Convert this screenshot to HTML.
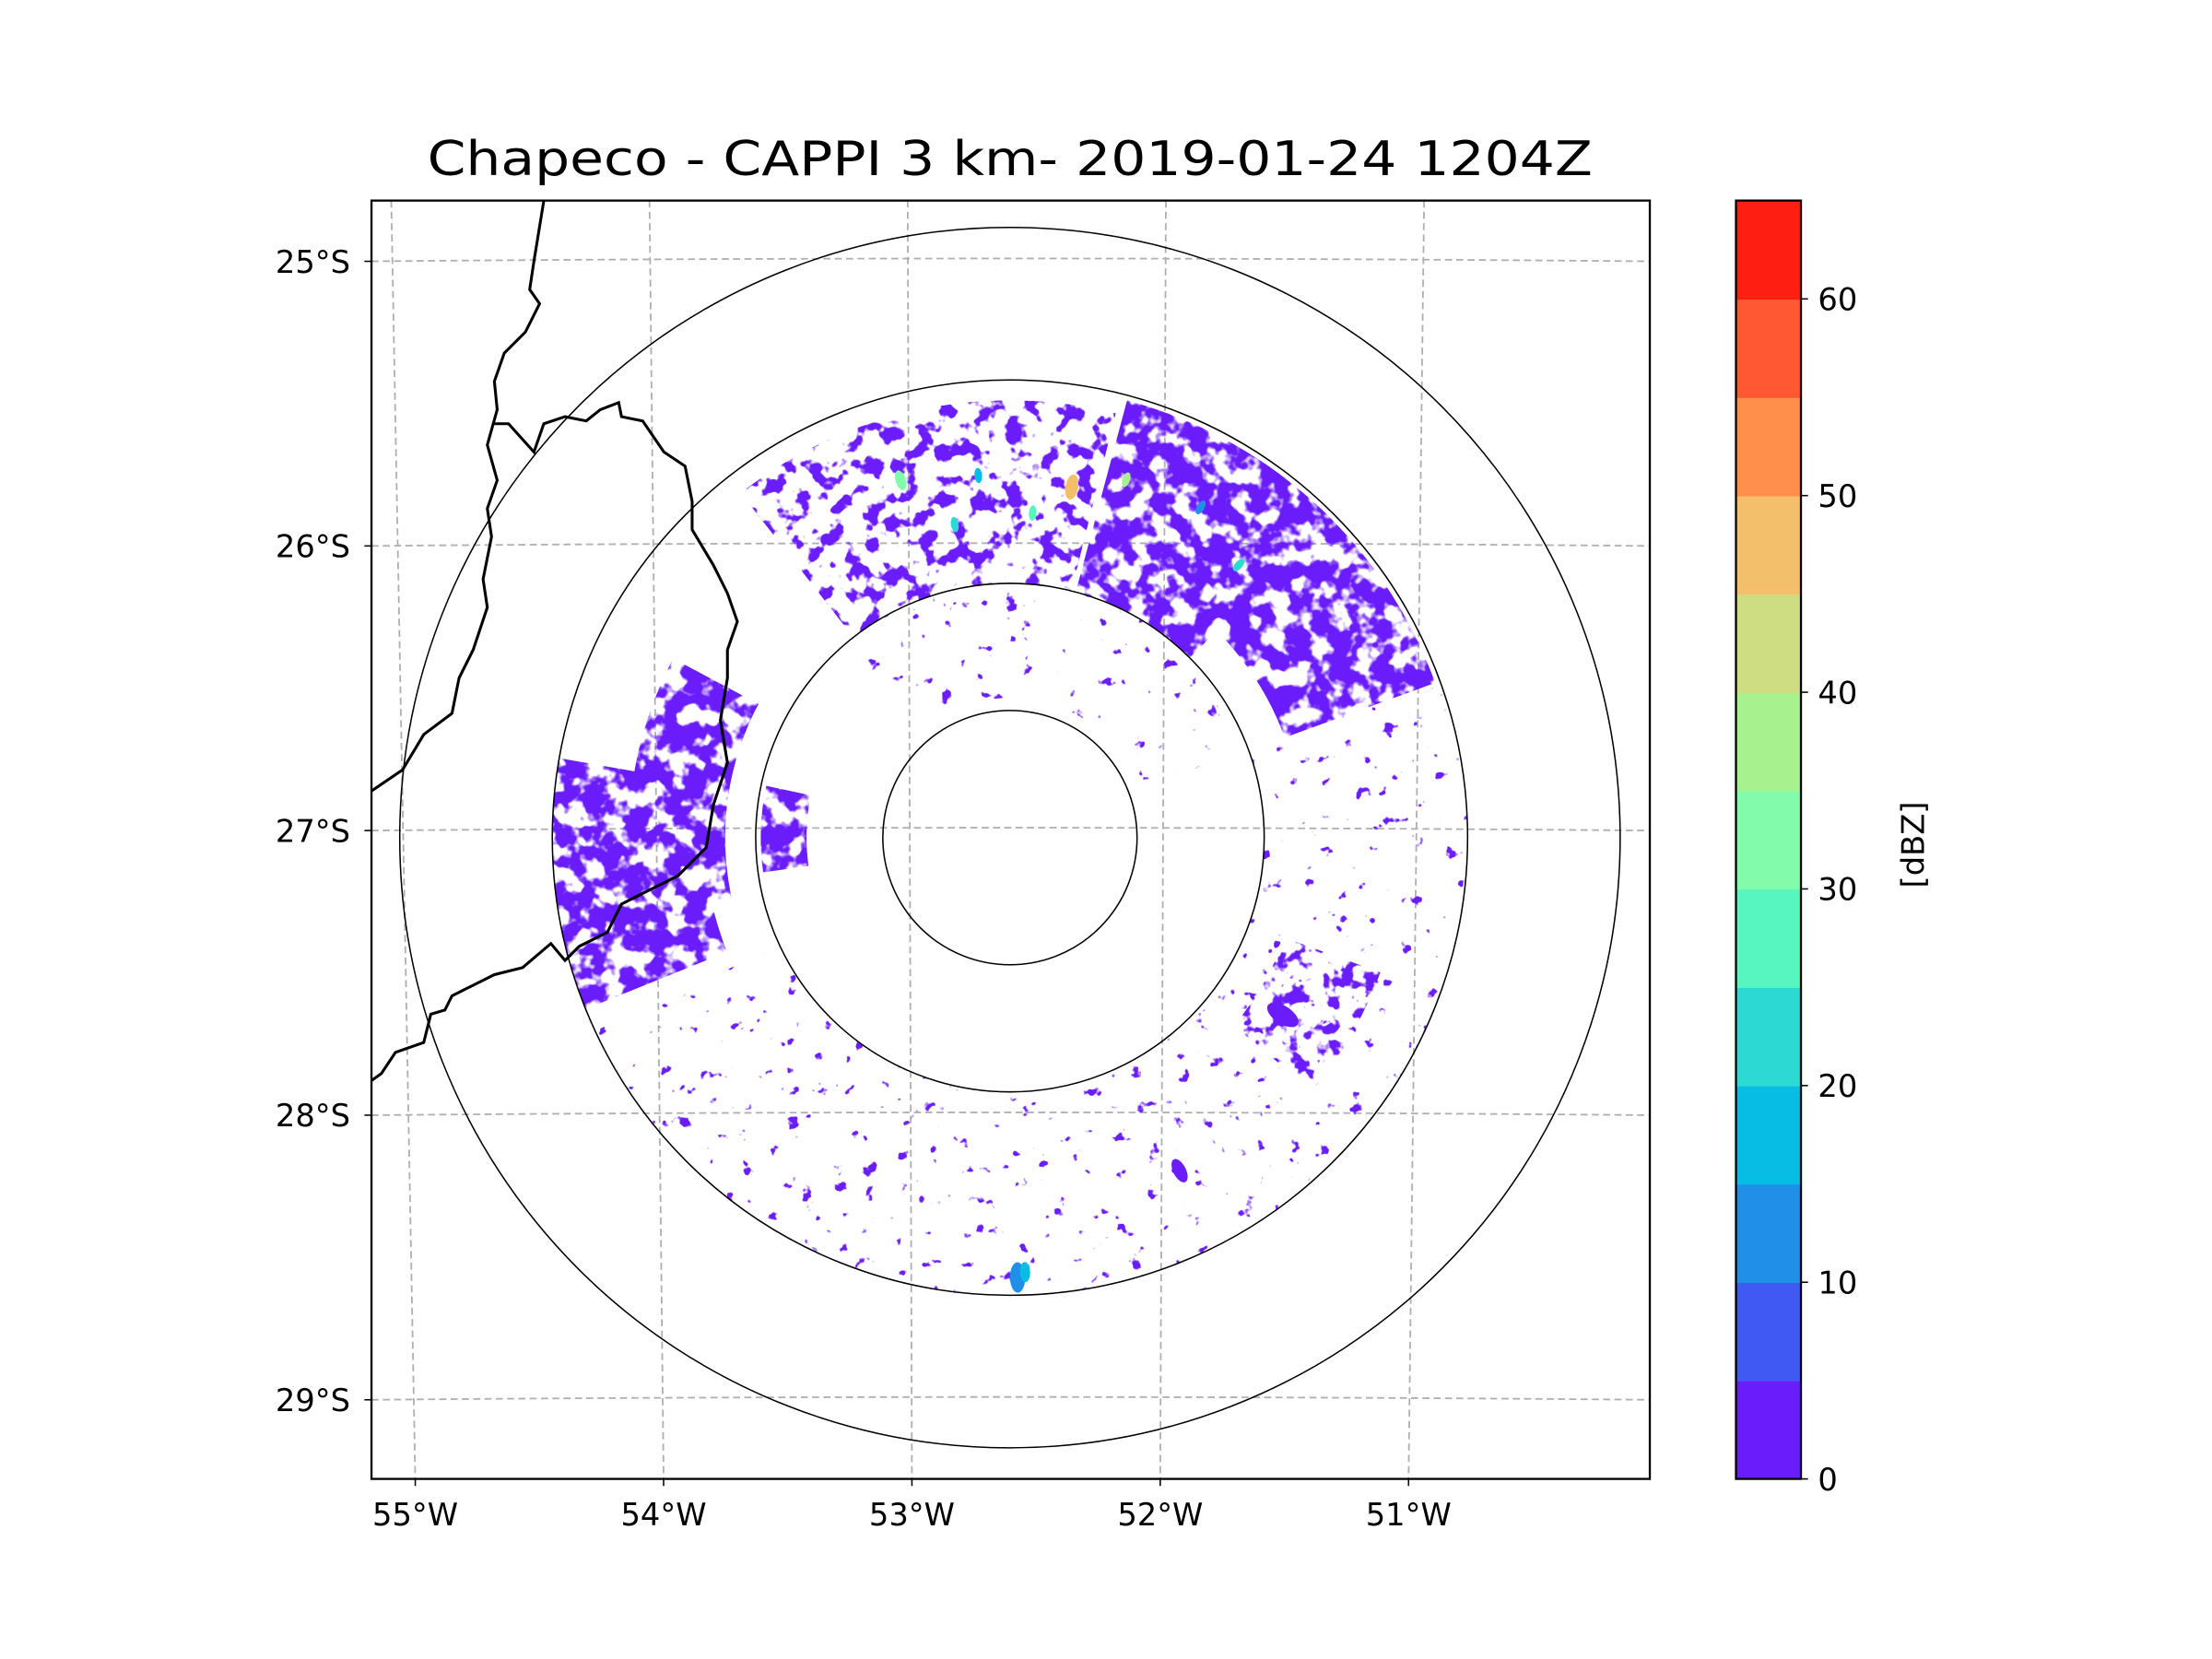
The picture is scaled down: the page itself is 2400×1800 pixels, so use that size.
<!DOCTYPE html>
<html><head><meta charset="utf-8"><style>
html,body{margin:0;padding:0;background:#fff;}
svg{display:block;font-family:"DejaVu Sans","Liberation Sans",sans-serif;}
</style></head><body>
<svg id="chart" width="2400" height="1800" viewBox="0 0 1566 1174.5" preserveAspectRatio="none" xmlns="http://www.w3.org/2000/svg">
<defs>
<filter id="dense" x="0" y="0" width="1566" height="1175" filterUnits="userSpaceOnUse">
<feTurbulence type="fractalNoise" baseFrequency="0.07" numOctaves="3" seed="7" result="n"/>
<feColorMatrix in="n" type="matrix" values="0 0 0 0 0  0 0 0 0 0  0 0 0 0 0  9 0 0 0 -3.7" result="m"/>
<feComposite in="SourceGraphic" in2="m" operator="in"/>
</filter>
<filter id="medium" x="0" y="0" width="1566" height="1175" filterUnits="userSpaceOnUse">
<feTurbulence type="fractalNoise" baseFrequency="0.08" numOctaves="3" seed="5" result="n"/>
<feColorMatrix in="n" type="matrix" values="0 0 0 0 0  0 0 0 0 0  0 0 0 0 0  12 0 0 0 -6.4" result="m"/>
<feComposite in="SourceGraphic" in2="m" operator="in"/>
</filter>
<filter id="sparse" x="0" y="0" width="1566" height="1175" filterUnits="userSpaceOnUse">
<feTurbulence type="fractalNoise" baseFrequency="0.09" numOctaves="3" seed="11" result="n"/>
<feColorMatrix in="n" type="matrix" values="0 0 0 0 0  0 0 0 0 0  0 0 0 0 0  16 0 0 0 -11.4" result="m"/>
<feComposite in="SourceGraphic" in2="m" operator="in"/>
</filter>
<clipPath id="axclip"><rect x="263" y="142" width="905" height="905"/></clipPath>
</defs>
<rect width="1566" height="1174.5" fill="#fff"/>
<text x="715" y="124" text-anchor="middle" font-size="34" textLength="825" lengthAdjust="spacingAndGlyphs">Chapeco - CAPPI 3 km- 2019-01-24 1204Z</text>
<g id="plot" clip-path="url(#axclip)">
<g id="grid"></g>
<g id="echoes"></g>
<g id="cells"></g>
<g id="rings"></g>
<path fill="none" stroke="#000" stroke-width="2" d="M385,142 L378,185 L375,205 L382,215 L372,235 L357,250 L350,270 L352,290 L345,315 L352,340 L345,360 L348,380 L342,410 L345,430 L335,460 L325,480 L320,505 L300,520 L285,545 L263,560"/>
<path fill="none" stroke="#000" stroke-width="2" d="M350,300 L360,300 L378,320 L385,300 L400,295 L415,298 L425,290 L438,285 L440,295 L455,298 L470,320 L485,330 L490,355 L490,375 L505,400 L515,420 L522,440 L515,460 L515,480 L510,510 L515,540 L505,570 L500,600 L480,620 L460,630 L440,640 L430,660 L410,670 L400,680 L390,668 L370,685 L350,690 L330,700 L320,705 L315,715 L305,718 L300,738 L280,745 L270,760 L263,765"/>
</g>
<rect x="263" y="142" width="905" height="905" fill="none" stroke="#000" stroke-width="1.5"/>
<g id="ticks"></g>
<g id="cbar"></g>
<text x="1362" y="598" text-anchor="middle" font-size="22" transform="rotate(-90 1362 598)">[dBZ]</text>
</svg>
<script>
// ---- data ----
const ringKm = [50, 100, 180, 240];
const latTicks = ['25°S','26°S','27°S','28°S','29°S'];
const latVals = [-25, -26, -27, -28, -29];
const lonTicks = ['55°W','54°W','53°W','52°W','51°W'];
const lonVals = [-55, -54, -53, -52, -51];
const cbarLevels = [0,5,10,15,20,25,30,35,40,45,50,55,60,65];
const cbarTickVals = [0,10,20,30,40,50,60];
const cbarColors = ['#6a1cfb','#4159f3','#1f8fe8','#08bde4','#2cdad3','#57f5bf','#82fcaa','#a8f18f','#cfdd82','#f3bf6a','#ff8f4a','#ff5833','#ff1f12'];
// echo sectors: azimuth start/end (deg from north), range in/out (km), dBZ, density (1 dense / 2 medium / 0 sparse)
const secAz0 = [15, 40, -38, 248, 258, 262, 70, 95, 150, 200, -40, 110, 140];
const secAz1 = [45, 70, 14, 280, 298, 282, 95, 150, 200, 245, 70, 130, 160];
const secR0  = [100, 115, 100, 120, 112, 80, 100, 100, 100, 100, 55, 115, 140];
const secR1  = [178, 178, 172, 180, 150, 98, 180, 180, 180, 180, 100, 155, 165];
const secDbz = [3, 3, 3, 3, 3, 3, 3, 3, 3, 3, 3, 3, 3];
const secDense = [1, 1, 2, 1, 1, 1, 0, 0, 0, 0, 0, 2, 0];
// discrete echoes: azimuth, range km, radius km, dBZ
const cellAz  = [123, 153, 179, 271, 10, 343, 4, 355, 30, 40, 18, 350, 178];
const cellR   = [128, 147, 173, 89, 140, 147, 128, 143, 150, 140, 148, 125, 171];
const cellSz  = [7, 5, 6, 4, 5, 4, 3, 3, 3, 3, 3, 3, 4];
const cellDbz = [4, 3, 12, 2, 48, 32, 25, 18, 12, 22, 38, 20, 15];

// ---- geometry ----
const cx = 715, cy = 593, pxPerKm = 1.8;
const NS = 'http://www.w3.org/2000/svg';
function polar(az, km){ const a = az*Math.PI/180; return [cx + Math.sin(a)*km*pxPerKm, cy - Math.cos(a)*km*pxPerKm]; }
function latY(lat){ return 185 + (-25 - lat) * 201.5; }
function lonXTop(lon){ return 277 + (lon + 55) * 182.8; }
function lonXBot(lon){ return 294 + (lon + 55) * 175.8; }
function colorFor(d){ for(let i=0;i<cbarColors.length;i++){ if(d < cbarLevels[i+1]) return cbarColors[i]; } return cbarColors[cbarColors.length-1]; }
function mk(tag, attrs, parent){ const e=document.createElementNS(NS,tag); for(const k in attrs) e.setAttribute(k,attrs[k]); parent.appendChild(e); return e; }

// graticule
const grid = document.getElementById('grid');
latVals.forEach((lat,i)=>{
  const y = latY(lat);
  const p = mk('path',{d:`M263,${y} Q715,${y-4} 1168,${y}`,fill:'none',stroke:'#b0b0b0','stroke-width':1.2,'stroke-dasharray':'5,3'},grid);
  
  
});
lonVals.forEach((lon,i)=>{
  const p = mk('line',{x1:lonXTop(lon),y1:142,x2:lonXBot(lon),y2:1047,stroke:'#b0b0b0','stroke-width':1.2,'stroke-dasharray':'5,3'},grid);
  
  
});

// echo sectors
const ech = document.getElementById('echoes');
const gSparse = mk('g',{filter:'url(#sparse)'},ech);
const gDense = mk('g',{filter:'url(#dense)'},ech);
const gMed = mk('g',{filter:'url(#medium)'},ech);
const groups = [gSparse, gDense, gMed];
secAz0.forEach((a0,i)=>{
  const a1 = secAz1[i], r0 = secR0[i], r1 = secR1[i];
  let d = '';
  const n = 24;
  for(let k=0;k<=n;k++){ const [x,y]=polar(a0+(a1-a0)*k/n, r1); d += (k?'L':'M')+x.toFixed(1)+','+y.toFixed(1); }
  for(let k=n;k>=0;k--){ const [x,y]=polar(a0+(a1-a0)*k/n, r0); d += 'L'+x.toFixed(1)+','+y.toFixed(1); }
  const p = mk('path',{d:d+'Z',fill:colorFor(secDbz[i])}, groups[secDense[i]]);
  
  
});
// discrete cells
const cg = document.getElementById('cells');
cellAz.forEach((az,i)=>{
  const [x,y] = polar(az, cellR[i]);
  const e = mk('ellipse',{cx:x.toFixed(1),cy:y.toFixed(1),rx:(cellSz[i]*pxPerKm).toFixed(1),ry:(cellSz[i]*pxPerKm*0.5).toFixed(1),fill:colorFor(cellDbz[i]),transform:`rotate(${(az+90)%180} ${x.toFixed(1)} ${y.toFixed(1)})`},cg);
  
  
});

// range rings
const rg = document.getElementById('rings');
ringKm.forEach(km=>{
  const c = mk('circle',{cx:cx,cy:cy,r:km*pxPerKm,fill:'none',stroke:'#000','stroke-width':1},rg);
  
  
});

// ticks
const tk = document.getElementById('ticks');
latTicks.forEach((lab,i)=>{
  const y = latY(latVals[i]);
  const l = mk('line',{x1:258,y1:y,x2:263,y2:y,stroke:'#000','stroke-width':1},tk);
  
  
  const t = mk('text',{x:248,y:y+8,'text-anchor':'end','font-size':22},tk);
  t.textContent = lab;
  
  
});
lonTicks.forEach((lab,i)=>{
  const x = lonXBot(lonVals[i]);
  const l = mk('line',{x1:x,y1:1047,x2:x,y2:1052,stroke:'#000','stroke-width':1},tk);
  
  
  const t = mk('text',{x:x,y:1080,'text-anchor':'middle','font-size':22},tk);
  t.textContent = lab;
  
  
});

// colorbar
const cb = document.getElementById('cbar');
const cbTop = 142, cbBot = 1047, cbX = 1229, cbW = 46;
const vmin = cbarLevels[0], vmax = cbarLevels[cbarLevels.length-1];
function cbY(v){ return cbBot - (v - vmin)/(vmax - vmin)*(cbBot - cbTop); }
cbarColors.forEach((c,i)=>{
  const y0 = cbY(cbarLevels[i+1]), y1 = cbY(cbarLevels[i]);
  const r = mk('rect',{x:cbX,y:y0,width:cbW,height:(y1-y0+0.5),fill:c},cb);
  
  
});
const fr = mk('rect',{x:cbX,y:cbTop,width:cbW,height:cbBot-cbTop,fill:'none',stroke:'#000','stroke-width':1.5},cb);


cbarTickVals.forEach(v=>{
  const y = cbY(v);
  const l = mk('line',{x1:cbX+cbW,y1:y,x2:cbX+cbW+5,y2:y,stroke:'#000','stroke-width':1},cb);
  
  
  const t = mk('text',{x:cbX+cbW+12,y:y+8,'font-size':22},cb);
  t.textContent = String(v);
  
  
});
</script>
</body></html>
